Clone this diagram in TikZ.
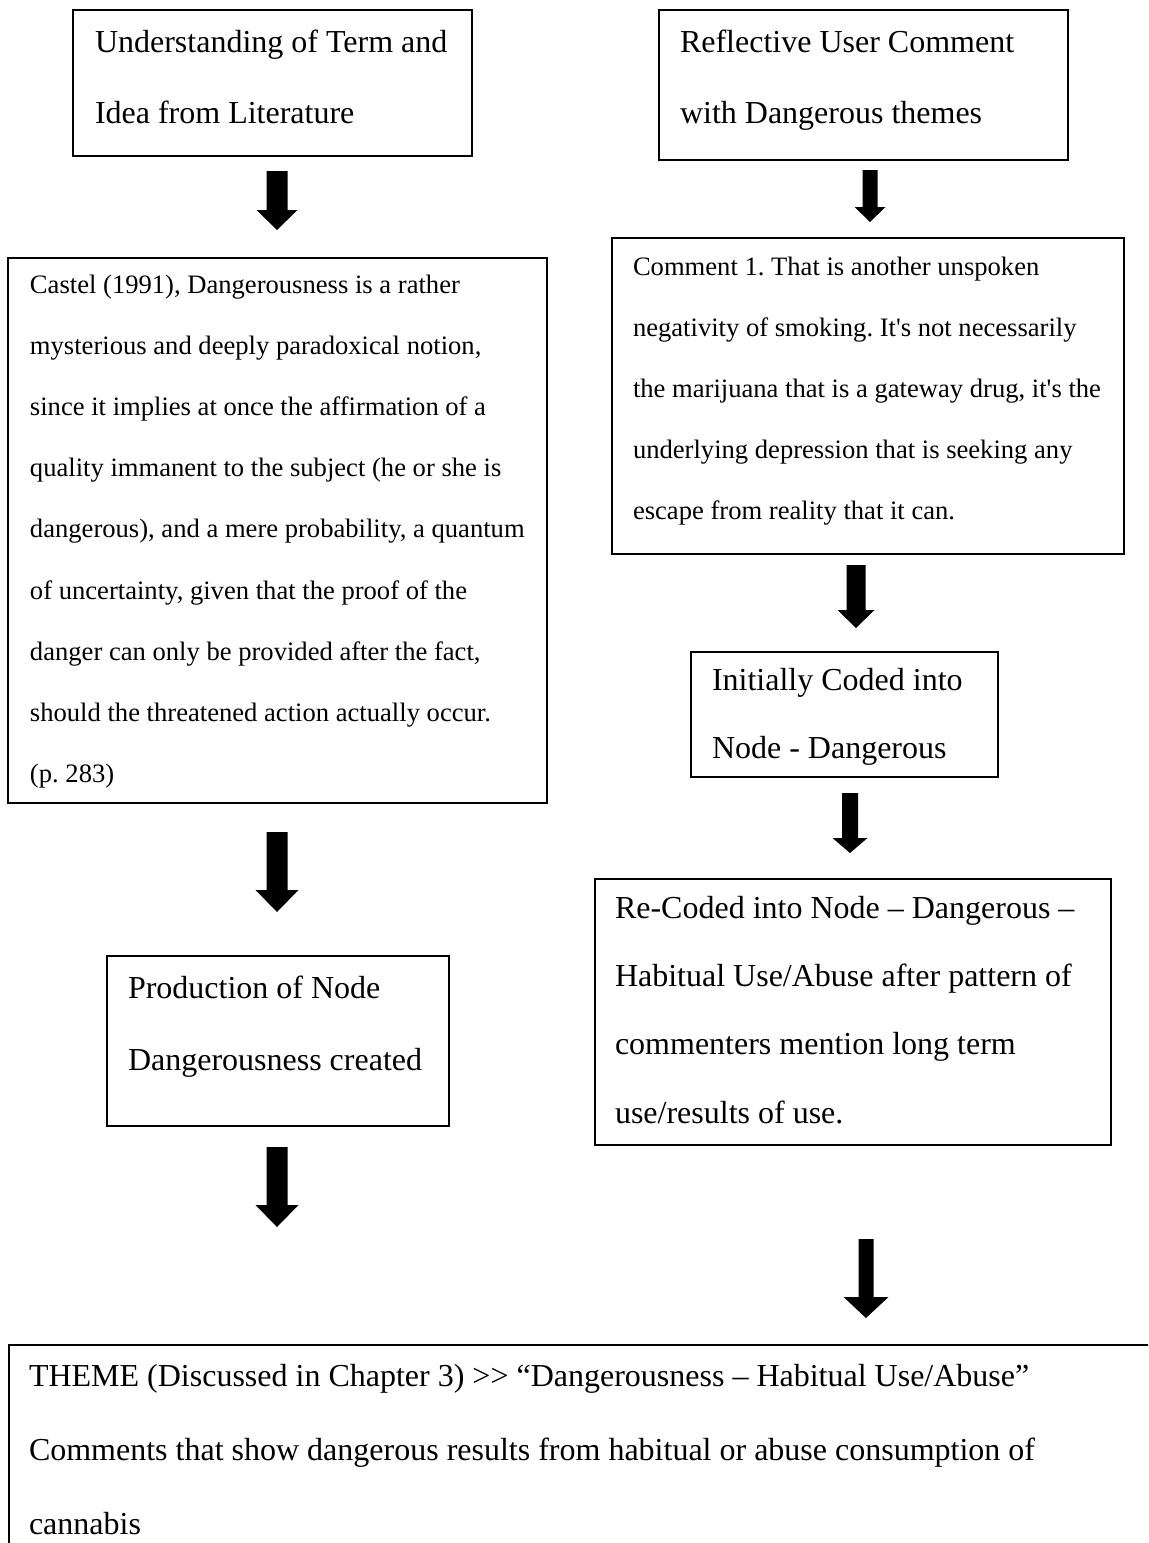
\documentclass[tikz,border=0pt]{standalone}
\usepackage{fontspec}
\setmainfont{Liberation Serif}[Ligatures=TeXOff]
\usetikzlibrary{calc}
\frenchspacing
\newcommand{\tlines}[3]{{\fontsize{#1}{#2}\selectfont\frenchspacing\begin{tabular}[t]{@{}l@{}}#3\end{tabular}}}
\tikzset{
  box/.style={draw, line width=1pt, inner sep=0pt, outer sep=0pt, anchor=north west},
  txt/.style={anchor=base west, inner sep=0pt, outer sep=0pt},
  blockarrow/.style n args={3}{to path={
    ($(\tikztostart)+(-#1,0)$) -- ($(\tikztotarget)+(-#1,-#3)$) --
    ($(\tikztotarget)+(-#2,-#3)$) -- (\tikztotarget) --
    ($(\tikztotarget)+(#2,-#3)$) -- ($(\tikztotarget)+(#1,-#3)$) --
    ($(\tikztostart)+(#1,0)$) -- cycle}},
}
\begin{document}
\begin{tikzpicture}[x=0.5pt, y=-0.5pt]
\useasboundingbox (0,0) rectangle (1148,1543);
\fill[white] (0,0) rectangle (1148,1543);
\clip (0,0) rectangle (1148,1543);

% boxes
\node[box, minimum width=199.5pt, minimum height=73pt] (b1) at (73,10) {};
\node[box, minimum width=204.5pt, minimum height=75pt] (b2) at (659,10) {};
\node[box, minimum width=269.5pt, minimum height=272.5pt] (b3) at (8,258) {};
\node[box, minimum width=256pt, minimum height=158pt] (b4) at (612,238) {};
\node[box, minimum width=153.5pt, minimum height=62.5pt] (b5) at (691,652) {};
\node[box, minimum width=258pt, minimum height=133pt] (b6) at (595,879) {};
\node[box, minimum width=171pt, minimum height=85pt] (b7) at (107,956) {};
\node[box, minimum width=575pt, minimum height=125pt] (b8) at (9,1345) {};

% texts
\node[txt] (t1) at (95,52) {\tlines{16}{35.5}{Understanding of Term and\\Idea from Literature}};
\node[txt] (t2) at (680,52) {\tlines{16}{35.5}{Reflective User Comment\\with Dangerous themes}};
\node[txt] (t3) at (30,293) {\tlines{13.3}{30.6}{Castel (1991), Dangerousness is a rather\\mysterious and deeply paradoxical notion,\\since it implies at once the affirmation of a\\quality immanent to the subject (he or she is\\dangerous), and a mere probability, a quantum\\of uncertainty, given that the proof of the\\danger can only be provided after the fact,\\should the threatened action actually occur.\\(p. 283)}};
\node[txt] (t4) at (633,275) {\tlines{13.3}{30.6}{Comment 1. That is another unspoken\\negativity of smoking. It's not necessarily\\the marijuana that is a gateway drug, it's the\\underlying depression that is seeking any\\escape from reality that it can.}};
\node[txt] (t5) at (712,690) {\tlines{16}{34}{Initially Coded into\\Node - Dangerous}};
\node[txt] (t6) at (615,918) {\tlines{16}{34.2}{Re-Coded into Node – Dangerous –\\Habitual Use/Abuse after pattern of\\commenters mention long term\\use/results of use.}};
\node[txt] (t7) at (128,998) {\tlines{16}{36}{Production of Node\\Dangerousness created}};
\node[txt] (t8) at (29,1386) {\tlines{16}{37}{THEME (Discussed in Chapter 3) >> “Dangerousness – Habitual Use/Abuse”\\Comments that show dangerous results from habitual or abuse consumption of\\cannabis}};

% arrows
\coordinate (a1s) at (277,171);  \coordinate (a1e) at (277,230);
\coordinate (a2s) at (870,170);  \coordinate (a2e) at (870,222);
\coordinate (a3s) at (856,565);  \coordinate (a3e) at (856,628);
\coordinate (a4s) at (277,832);  \coordinate (a4e) at (277,912);
\coordinate (a5s) at (850,793);  \coordinate (a5e) at (850,853);
\coordinate (a6s) at (277,1147); \coordinate (a6e) at (277,1227);
\coordinate (a7s) at (866,1239); \coordinate (a7e) at (866,1318);
\fill[blockarrow={10.5}{20.5}{20}] (a1s) to (a1e);
\fill[blockarrow={7.5}{15.5}{15}] (a2s) to (a2e);
\fill[blockarrow={9.5}{18.5}{18}] (a3s) to (a3e);
\fill[blockarrow={10.5}{21.5}{22}] (a4s) to (a4e);
\fill[blockarrow={8}{17.5}{15}] (a5s) to (a5e);
\fill[blockarrow={10.5}{21.5}{22}] (a6s) to (a6e);
\fill[blockarrow={7.5}{22.5}{21}] (a7s) to (a7e);
\end{tikzpicture}
\end{document}
